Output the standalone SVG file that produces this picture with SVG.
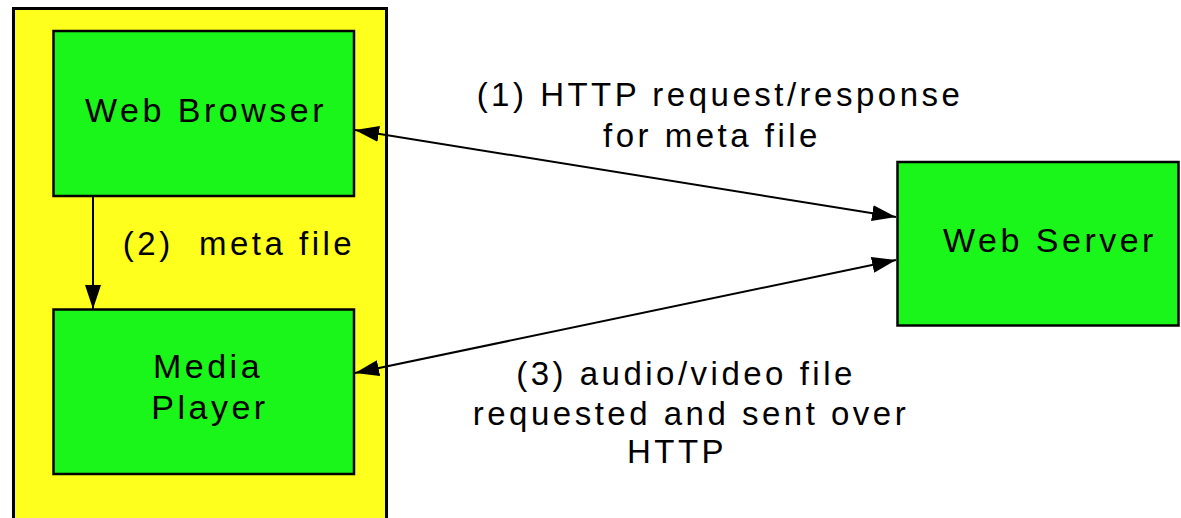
<svg xmlns="http://www.w3.org/2000/svg" width="1181" height="518" viewBox="0 0 1181 518">
<style>
.box{fill:#1af51a;stroke:#000;stroke-width:2.5}
.node{font-family:"Liberation Sans",Arial,sans-serif;font-size:34px;letter-spacing:3.5px;fill:#000;text-anchor:middle}
.lbl{font-family:"Liberation Sans",Arial,sans-serif;font-size:33px;letter-spacing:3.5px;fill:#000;text-anchor:middle}
.conn{stroke:#000;stroke-width:2;fill:none}
</style>
<defs>
<marker id="ah" markerUnits="userSpaceOnUse" markerWidth="24" markerHeight="16" refX="24" refY="8" orient="auto-start-reverse">
<path d="M0,0 L24,8 L0,16 z" fill="#000"/>
</marker>
</defs>
<rect x="0" y="0" width="1181" height="518" fill="#fff"/>
<g id="client">
<rect x="13.5" y="8.5" width="373" height="530" fill="#ffff1e" stroke="#000" stroke-width="3"/>
</g>
<g id="web-browser">
<rect class="box" x="53.5" y="31" width="300.5" height="165"/>
<text class="node" x="206" y="122">Web Browser</text>
</g>
<g id="media-player">
<rect class="box" x="53.5" y="309.5" width="300.5" height="164.5"/>
<text class="node" x="208" y="378">Media</text>
<text class="node" x="210" y="419">Player</text>
</g>
<g id="web-server">
<rect class="box" x="897.5" y="162" width="281" height="163.5"/>
<text class="node" x="1050" y="252">Web Server</text>
</g>
<g id="connectors">
<line class="conn" x1="93" y1="196" x2="93" y2="309" marker-end="url(#ah)"/>
<line class="conn" x1="355" y1="130" x2="896" y2="217" marker-start="url(#ah)" marker-end="url(#ah)"/>
<line class="conn" x1="355" y1="373" x2="896" y2="260" marker-start="url(#ah)" marker-end="url(#ah)"/>
</g>
<g id="labels">
<text class="lbl" x="720" y="106">(1) HTTP request/response</text>
<text class="lbl" x="712" y="147">for meta file</text>
<text class="lbl" x="239" y="255" xml:space="preserve">(2)  meta file</text>
<text class="lbl" x="686" y="385">(3) audio/video file</text>
<text class="lbl" x="691" y="425">requested and sent over</text>
<text class="lbl" x="677" y="463">HTTP</text>
</g>
</svg>
